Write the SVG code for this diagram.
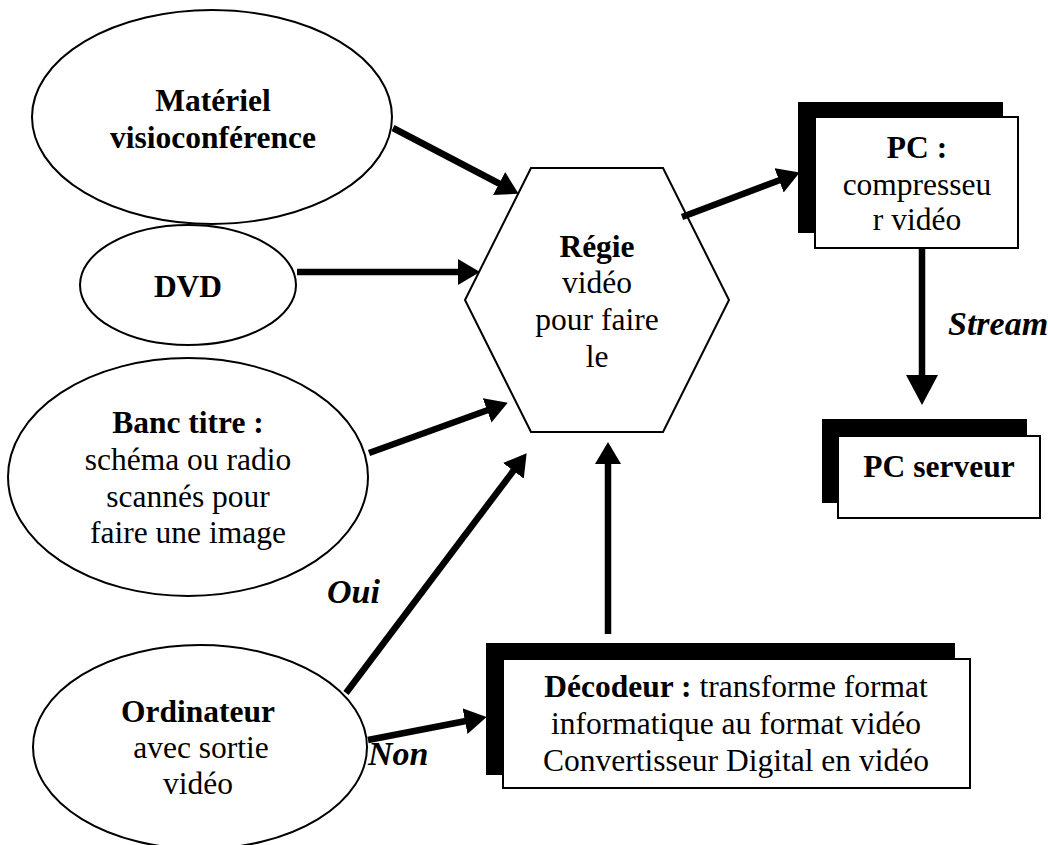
<svg xmlns="http://www.w3.org/2000/svg" width="1048" height="845" viewBox="0 0 1048 845">
  <defs>
    <marker id="head" markerUnits="userSpaceOnUse" markerWidth="22" markerHeight="26" viewBox="0 0 22 26" refX="1" refY="13" orient="auto">
      <path d="M0,0 L22,13 L0,26 z" fill="#000"/>
    </marker>
    <marker id="headBig" markerUnits="userSpaceOnUse" markerWidth="30" markerHeight="32" viewBox="0 0 30 32" refX="1" refY="16" orient="auto">
      <path d="M0,0 L30,16 L0,32 z" fill="#000"/>
    </marker>
    <style>
      .shape { fill: #fff; stroke: #000; stroke-width: 2; }
      .shadow { fill: #000; stroke: none; }
      .t { font-family: "Liberation Serif", "Times New Roman", serif; font-size: 31.5px; fill: #000; text-anchor: middle; }
      .b { font-weight: bold; }
      .lbl { font-family: "Liberation Serif", "Times New Roman", serif; font-size: 34px; font-style: italic; font-weight: bold; fill: #000; }
      .arrow { stroke: #000; stroke-width: 6.5; fill: none; marker-end: url(#head); }
      .arrowBig { stroke: #000; stroke-width: 6.5; fill: none; marker-end: url(#headBig); }
    </style>
  </defs>
  <rect width="1048" height="845" fill="#fff"/>

  <!-- source devices -->
  <g id="materiel">
    <ellipse class="shape" cx="212" cy="117" rx="180" ry="107"/>
    <text class="t b" x="213" y="111">Matériel</text>
    <text class="t b" x="213" y="148">visioconférence</text>
  </g>
  <g id="dvd">
    <ellipse class="shape" cx="188" cy="285" rx="108" ry="60"/>
    <text class="t b" x="188" y="297">DVD</text>
  </g>
  <g id="banc-titre">
    <ellipse class="shape" cx="188" cy="477" rx="180" ry="119"/>
    <text class="t" x="188" y="433"><tspan class="b">Banc titre :</tspan></text>
    <text class="t" x="188" y="470">schéma ou radio</text>
    <text class="t" x="188" y="507">scannés pour</text>
    <text class="t" x="188" y="543">faire une image</text>
  </g>
  <g id="ordinateur">
    <ellipse class="shape" cx="200" cy="747" rx="167" ry="102"/>
    <text class="t b" x="198" y="722">Ordinateur</text>
    <text class="t" x="201" y="758">avec sortie</text>
    <text class="t" x="198" y="794">vidéo</text>
  </g>

  <!-- central video desk -->
  <g id="regie">
    <polygon class="shape" points="531,168 663,168 729,300 663,432 531,432 465,300"/>
    <text class="t b" x="597" y="257">Régie</text>
    <text class="t" x="597" y="293">vidéo</text>
    <text class="t" x="597" y="330">pour faire</text>
    <text class="t" x="597" y="367">le</text>
  </g>

  <!-- boxes with offset shadow -->
  <g id="pc-compresseur">
    <rect class="shadow" x="798" y="102" width="205" height="131"/>
    <rect class="shape" x="815" y="117" width="203" height="131"/>
    <text class="t b" x="917" y="158">PC :</text>
    <text class="t" x="917" y="195">compresseu</text>
    <text class="t" x="917" y="230">r vidéo</text>
  </g>
  <g id="pc-serveur">
    <rect class="shadow" x="822" y="419" width="205" height="84"/>
    <rect class="shape" x="838" y="436" width="202" height="82"/>
    <text class="t b" x="939" y="477">PC serveur</text>
  </g>
  <g id="decodeur">
    <rect class="shadow" x="486" y="643" width="469" height="132"/>
    <rect class="shape" x="503" y="659" width="467" height="129"/>
    <text class="t" x="736" y="697"><tspan class="b">Décodeur :</tspan> transforme format</text>
    <text class="t" x="736" y="734">informatique au format vidéo</text>
    <text class="t" x="736" y="771">Convertisseur Digital en vidéo</text>
  </g>

  <!-- connectors -->
  <g id="connectors">
    <line class="arrow" x1="393" y1="128" x2="500" y2="184"/>
    <line class="arrow" x1="297" y1="272" x2="459" y2="272"/>
    <line class="arrow" x1="369" y1="453" x2="488" y2="410"/>
    <line class="arrow" x1="346" y1="693" x2="514" y2="470"/>
    <line class="arrow" x1="368" y1="740" x2="466" y2="721"/>
    <line class="arrow" x1="682" y1="217" x2="780" y2="180"/>
    <line class="arrowBig" x1="922" y1="248" x2="922" y2="376"/>
    <line class="arrow" x1="608" y1="634" x2="608" y2="463"/>
    <text class="lbl" x="327" y="603" font-size="37">Oui</text>
    <text class="lbl" x="368" y="765">Non</text>
    <text class="lbl" x="948" y="335">Stream</text>
  </g>
</svg>
